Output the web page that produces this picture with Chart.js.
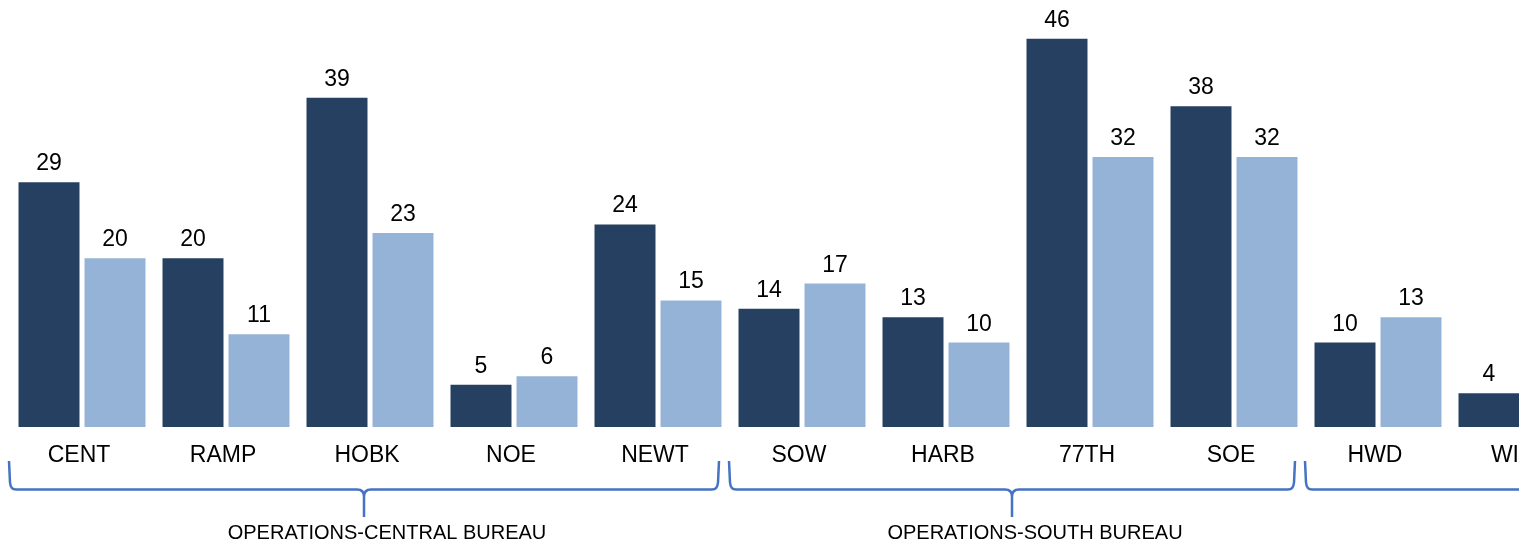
<!DOCTYPE html>
<html>
<head>
<meta charset="utf-8">
<script src="https://cdn.jsdelivr.net/npm/chart.js@4"></script>
<style>
html, body { margin: 0; padding: 0; overflow: hidden; background: #fff; }
#wrap { width: 1604px; height: 543px; }
</style>
</head>
<body>
<div id="wrap"><canvas id="c" width="1604" height="543"></canvas></div>
<script>
// ---- data ----
const categories = ['CENT', 'RAMP', 'HOBK', 'NOE', 'NEWT', 'SOW', 'HARB', '77TH', 'SOE', 'HWD', 'WILS'];
const seriesDark = [29, 20, 39, 5, 24, 14, 13, 46, 38, 10, 4];
const seriesLight = [20, 11, 23, 6, 15, 17, 10, 32, 32, 13, null];
const bureauNames = ['OPERATIONS-CENTRAL BUREAU', 'OPERATIONS-SOUTH BUREAU', 'OPERATIONS-WEST BUREAU'];
const bureauFirst = [0, 5, 9];
const bureauLast = [4, 8, 13];
const yMax = 50;

const FONT = 'Arial, "Liberation Sans", sans-serif';

const valueLabels = {
  id: 'valueLabels',
  afterDatasetsDraw(chart) {
    const ctx = chart.ctx;
    ctx.save();
    ctx.font = '23px ' + FONT;
    ctx.fillStyle = '#000';
    ctx.textAlign = 'center';
    ctx.textBaseline = 'alphabetic';
    chart.data.datasets.forEach((ds, di) => {
      const meta = chart.getDatasetMeta(di);
      meta.data.forEach((bar, i) => {
        const v = ds.data[i];
        if (v === null || v === undefined) return;
        ctx.fillText(String(v), bar.x, bar.y - 12);
      });
    });
    ctx.restore();
  }
};

const brackets = {
  id: 'brackets',
  afterDraw(chart) {
    const ctx = chart.ctx;
    const xs = chart.scales.x;
    const w = xs.getPixelForValue(1) - xs.getPixelForValue(0);
    const base = chart.chartArea.bottom;
    const yTop = base + 34, yH = base + 62.5, yTip = base + 90, r = 7;
    ctx.save();
    ctx.strokeStyle = '#4472C4';
    ctx.lineWidth = 2.5;
    ctx.lineJoin = 'round';
    bureauNames.forEach((name, g) => {
      const L = xs.getPixelForValue(bureauFirst[g]) - w / 2 - 1;
      const R = xs.getPixelForValue(bureauLast[g]) + w / 2 - 11;
      const T = (L + R) / 2;
      ctx.beginPath();
      ctx.moveTo(L, yTop);
      ctx.lineTo(L + 1, yH - r);
      ctx.quadraticCurveTo(L + 1.5, yH, L + r, yH);
      ctx.lineTo(T - r, yH);
      ctx.quadraticCurveTo(T, yH, T, yH + r);
      ctx.lineTo(T, yTip);
      ctx.moveTo(T, yH + r);
      ctx.quadraticCurveTo(T, yH, T + r, yH);
      ctx.lineTo(R - r, yH);
      ctx.quadraticCurveTo(R - 1.5, yH, R - 1, yH - r);
      ctx.lineTo(R, yTop);
      ctx.stroke();
      ctx.fillStyle = '#000';
      ctx.font = '20px ' + FONT;
      ctx.textAlign = 'center';
      ctx.textBaseline = 'alphabetic';
      ctx.fillText(name, T + 23, base + 112);
    });
    ctx.restore();
  }
};

new Chart(document.getElementById('c'), {
  type: 'bar',
  data: {
    labels: categories,
    datasets: [
      { data: seriesDark, backgroundColor: '#264061', barPercentage: 0.924, categoryPercentage: 0.9167 },
      { data: seriesLight, backgroundColor: '#95B3D7', barPercentage: 0.924, categoryPercentage: 0.9167 }
    ]
  },
  options: {
    responsive: false,
    animation: false,
    layout: { padding: { top: 5, left: 10, right: 10, bottom: 0 } },
    plugins: { legend: { display: false }, tooltip: { enabled: false } },
    scales: {
      x: {
        grid: { display: false, drawTicks: false },
        border: { display: false },
        ticks: { color: '#000', font: { size: 23, family: FONT }, padding: 15, labelOffset: -3, maxRotation: 0, autoSkip: false },
        afterFit(axis) { axis.height = 116; }
      },
      y: {
        display: false,
        min: 0,
        max: yMax
      }
    }
  },
  plugins: [valueLabels, brackets]
});
</script>
</body>
</html>
